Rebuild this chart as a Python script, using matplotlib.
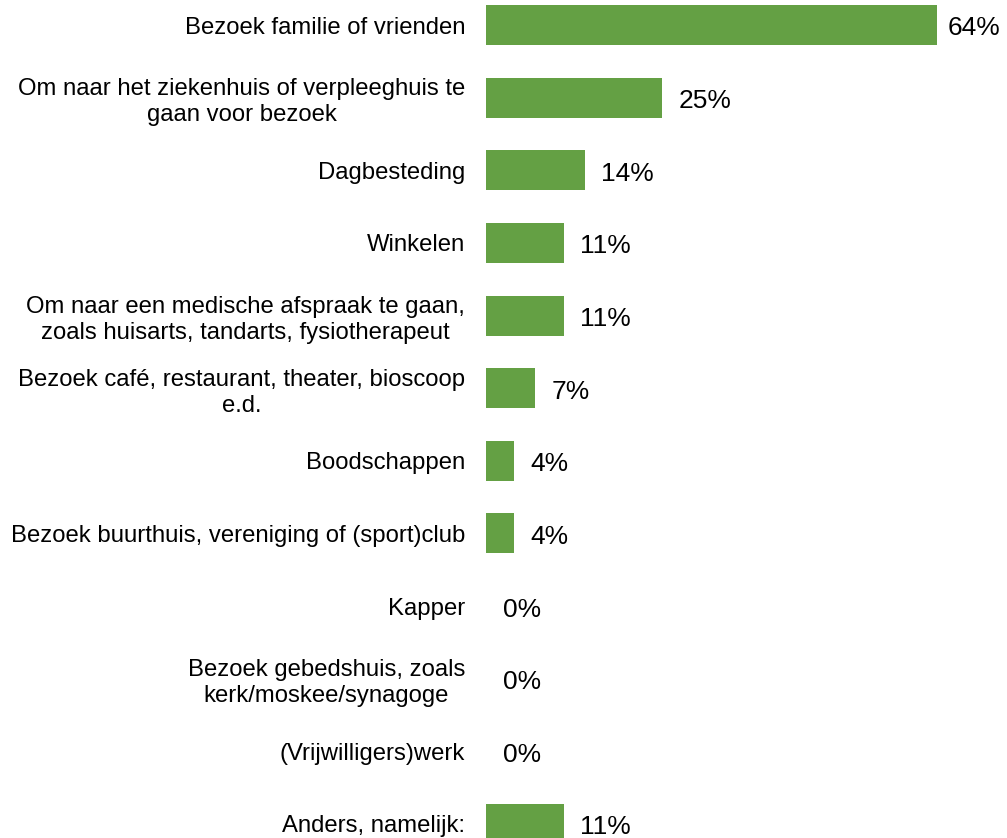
import matplotlib
matplotlib.use("Agg")
import matplotlib.pyplot as plt

categories = [
    "Bezoek familie of vrienden",
    "Om naar het ziekenhuis of verpleeghuis te\ngaan voor bezoek",
    "Dagbesteding",
    "Winkelen",
    "Om naar een medische afspraak te gaan,\nzoals huisarts, tandarts, fysiotherapeut",
    "Bezoek café, restaurant, theater, bioscoop\ne.d.",
    "Boodschappen",
    "Bezoek buurthuis, vereniging of (sport)club",
    "Kapper",
    "Bezoek gebedshuis, zoals\nkerk/moskee/synagoge",
    "(Vrijwilligers)werk",
    "Anders, namelijk:",
]
values = [64, 25, 14, 11, 11, 7, 4, 4, 0, 0, 0, 11]

plt.rcParams['font.family'] = ['Liberation Sans', 'DejaVu Sans']

W, H = 1007, 838
fig = plt.figure(figsize=(W / 100, H / 100), dpi=100)
ax = fig.add_axes([486 / W, 0, 1 - 486 / W, 1])

px_per_unit = 451 / 64
ax.set_xlim(0, (W - 486) / px_per_unit)
spacing = 72.6
ax.set_ylim(11 + (H - 824) / spacing, -25 / spacing)

y = list(range(len(categories)))
ax.barh(y, values, height=0.55, color="#64A044")

for yi, v in zip(y, values):
    dx = 8 if v >= 60 else 12
    ax.annotate(f"{v}%", xy=(v, yi), xytext=(dx, -2.5), textcoords="offset points",
                ha="left", va="center", fontsize=19, color="#000000")

ax.set_yticks(y)
ax.set_yticklabels(categories, fontsize=17.2, linespacing=1.25, multialignment="center")
ax.tick_params(axis="y", length=0, pad=15)
ax.set_xticks([])
for s in ax.spines.values():
    s.set_visible(False)

fig.savefig("out.png", dpi=100)
